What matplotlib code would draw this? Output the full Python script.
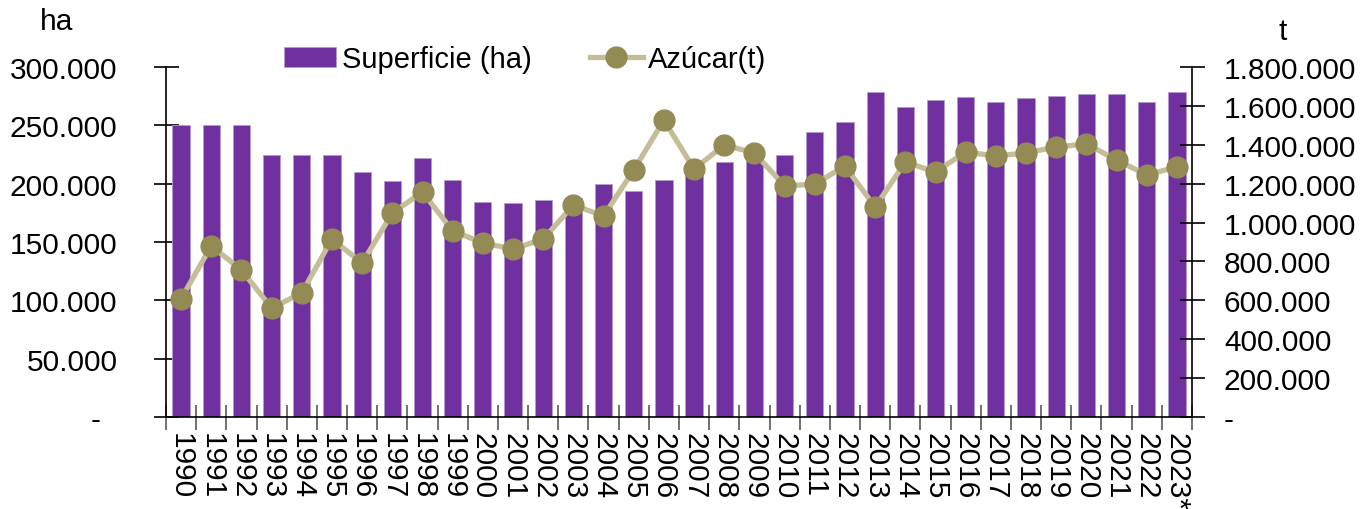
import matplotlib.pyplot as plt
import numpy as np
from matplotlib.ticker import FuncFormatter, FixedLocator

plt.rcParams['font.family'] = ['Liberation Sans', 'DejaVu Sans']

years = [str(y) for y in range(1990, 2023)] + ["2023*"]
superficie = [250000, 250000, 250000, 225000, 225000, 225000, 210000, 202000,
              222000, 203000, 184000, 183500, 186000, 188000, 200000, 193500,
              203500, 208000, 219000, 222000, 225000, 244000, 252500, 279000,
              265500, 271500, 274000, 270000, 273500, 275000, 277000, 276500,
              270000, 278500]
azucar = [608000, 880000, 756000, 560000, 638000, 915000, 792000, 1049000,
          1157000, 957000, 895000, 864000, 915000, 1090000, 1034000, 1270000,
          1527000, 1275000, 1399000, 1358000, 1188000, 1198000, 1290000, 1080000,
          1311000, 1260000, 1363000, 1342000, 1358000, 1389000, 1404000, 1322000,
          1245000, 1286000]

bar_color = "#7030A0"
line_color = "#C4BD97"
marker_color = "#948A54"
fs = 21.5


def left_fmt(v, pos):
    if v == 0:
        return "-  "
    return f"{int(v):,}".replace(",", ".")


def right_fmt(v, pos):
    if v == 0:
        return "-"
    return f"{int(v):,}".replace(",", ".")


fig = plt.figure(figsize=(13.68, 5.10), dpi=100)
ax = fig.add_axes([166/1368, 92/510, 1026/1368, 350/510])
x = np.arange(len(years))

ax.bar(x, superficie, width=0.57, color=bar_color, edgecolor="#B49BD0",
       linewidth=0.6, label="Superficie (ha)", zorder=2)
ax.set_xlim(-0.5, len(years) - 0.5)
ax.set_ylim(0, 300000)
ax.set_yticks(np.arange(0, 300001, 50000))
ax.yaxis.set_major_formatter(FuncFormatter(left_fmt))

# tick marks at category borders, labels at centers
ax.xaxis.set_major_locator(FixedLocator(np.arange(-0.5, len(years), 1.0)))
ax.xaxis.set_minor_locator(FixedLocator(x))
ax.set_xticklabels([], minor=False)
ax.set_xticklabels(years, minor=True, rotation=-90, fontsize=fs)
ax.tick_params(axis="x", which="major", direction="inout", length=18,
               color="#595959", width=1.2)
ax.tick_params(axis="x", which="minor", length=0, pad=11)
ax.tick_params(axis="y", direction="inout", length=18, width=1.2,
               labelsize=fs, pad=26)

ax.spines["top"].set_visible(False)
ax.spines["right"].set_visible(False)
ax.spines["left"].set_linewidth(1.2)
ax.spines["bottom"].set_linewidth(1.2)

ax2 = ax.twinx()
ax2.plot(x, azucar, color=line_color, linewidth=3.8, marker="o",
         markersize=15, markerfacecolor=marker_color,
         markeredgecolor=marker_color, label="Azúcar(t)", zorder=3)
ax2.set_ylim(0, 1800000)
ax2.set_yticks(np.arange(0, 1800001, 200000))
ax2.yaxis.set_major_formatter(FuncFormatter(right_fmt))
ax2.tick_params(axis="y", direction="inout", length=18, width=1.2,
                labelsize=fs, pad=14)
ax2.spines["top"].set_visible(False)
ax2.spines["left"].set_visible(False)
ax2.spines["bottom"].set_visible(False)
ax2.spines["right"].set_linewidth(1.2)

fig.text(57/1368, 1 - 22/510, "ha", fontsize=fs, ha="center", va="center")
fig.text(1283/1368, 1 - 32/510, "t", fontsize=fs, ha="center", va="center")

h1, l1 = ax.get_legend_handles_labels()
h2, l2 = ax2.get_legend_handles_labels()
fig.legend(h1 + h2, l1 + l2, loc="center left",
           bbox_to_anchor=(272/1368, 1 - 60/510), ncol=2, frameon=False,
           fontsize=21, handlelength=1.8, handletextpad=0.2,
           columnspacing=2.0, borderaxespad=0)

fig.savefig("out.png", dpi=100)
